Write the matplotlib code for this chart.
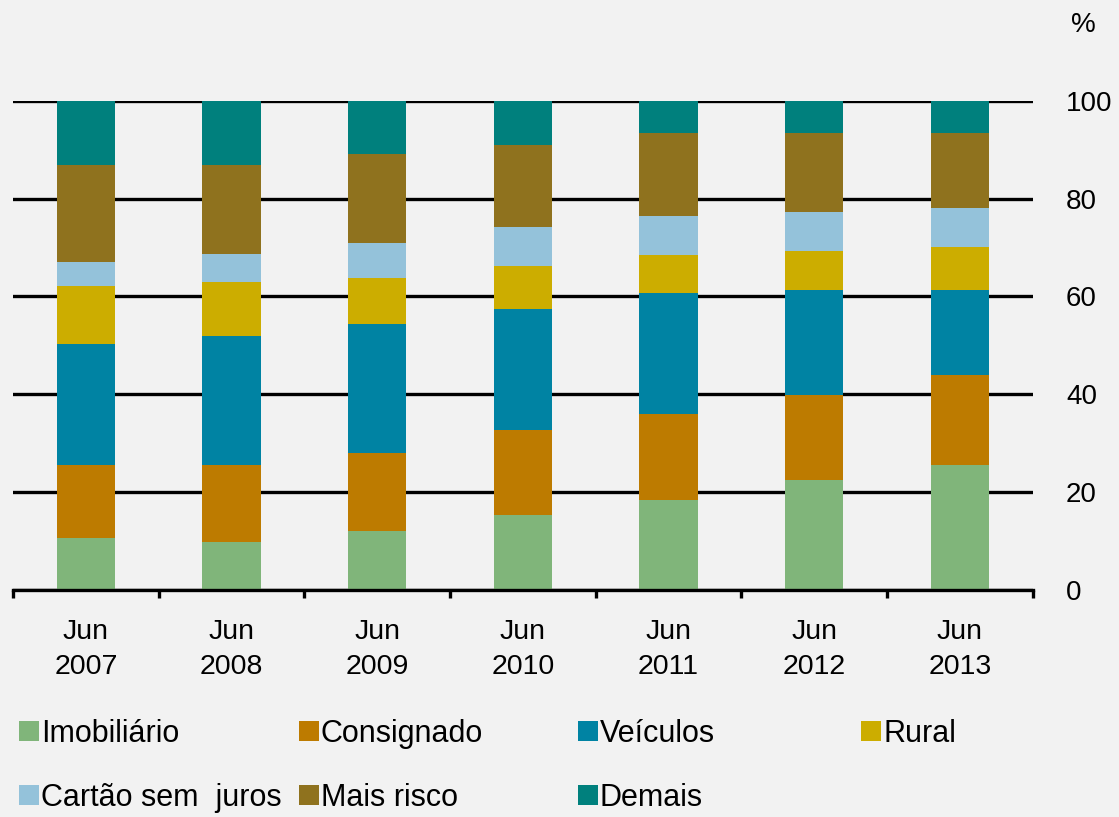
import numpy as np
import matplotlib.pyplot as plt
from matplotlib.patches import Patch

plt.rcParams['font.family'] = ['Liberation Sans', 'DejaVu Sans']

years = ["Jun\n2007", "Jun\n2008", "Jun\n2009", "Jun\n2010", "Jun\n2011", "Jun\n2012", "Jun\n2013"]

# share of each segment, %
imobiliario = [10.6, 9.8, 12.1, 15.3, 18.4, 22.5, 25.6]
consignado = [15.0, 15.8, 15.9, 17.5, 17.6, 17.4, 18.4]
veiculos = [24.6, 26.3, 26.3, 24.6, 24.6, 21.5, 17.4]
rural = [11.9, 11.0, 9.5, 8.8, 7.9, 7.9, 8.7]
cartao = [4.9, 5.7, 7.1, 7.9, 8.0, 8.0, 8.0]
mais_risco = [19.8, 18.2, 18.3, 16.8, 16.8, 16.0, 15.2]
demais = [13.2, 13.2, 10.8, 9.1, 6.7, 6.7, 6.7]

series = [
    ["Imobiliário", imobiliario, "#80B57A"],
    ["Consignado", consignado, "#BD7B00"],
    ["Veículos", veiculos, "#0083A3"],
    ["Rural", rural, "#CCAD00"],
    ["Cartão sem  juros", cartao, "#94C2DA"],
    ["Mais risco", mais_risco, "#8F721E"],
    ["Demais", demais, "#00807D"],
]

bg = "#F2F2F2"
fig = plt.figure(figsize=(11.19, 8.17), dpi=100, facecolor=bg)
ax = fig.add_axes([0.0116, 0.2778, 0.9113, 0.599])
ax.set_facecolor(bg)

x = np.arange(len(years))
bottom = np.zeros(len(years))
for name, vals, color in series:
    ax.bar(x, vals, 0.40, bottom=bottom, color=color, edgecolor="none", zorder=3, label=name)
    bottom += np.array(vals)

ax.set_xlim(-0.5, len(years) - 0.5)
ax.set_ylim(0, 100)

# horizontal gridlines
ax.set_yticks([0, 20, 40, 60, 80, 100])
ax.yaxis.tick_right()
ax.grid(axis="y", color="black", linewidth=2.4, zorder=1)
ax.tick_params(axis="y", length=0, pad=24, labelsize=20)

# ticks between categories, labels centred under bars
ax.set_xticks(np.arange(-0.5, len(years), 1.0))
ax.set_xticklabels([])
ax.set_xticks(x, minor=True)
ax.set_xticklabels(years, minor=True, fontsize=20.5, linespacing=1.45)
ax.tick_params(axis="x", which="major", length=6, width=2.4, color="black")
ax.tick_params(axis="x", which="minor", length=0, pad=21)

for s in ["left", "right", "top"]:
    ax.spines[s].set_visible(False)
ax.spines["bottom"].set_linewidth(2.4)
ax.spines["bottom"].set_zorder(4)

fig.text(1083 / 1119, 1 - 25 / 817, "%", fontsize=20, ha="center", va="center")

# legend, one block per column
col_x = [19, 299, 578, 861]
for c in range(4):
    handles = []
    for idx in (c, c + 4):
        if idx < len(series):
            name, vals, color = series[idx]
            handles.append(Patch(facecolor=color, edgecolor="none", label=name))
    fig.legend(handles=handles, loc="upper left",
               bbox_to_anchor=(col_x[c] / 1119, 1 - 719 / 817),
               frameon=False, fontsize=22, handlelength=0.65, handleheight=0.65,
               handletextpad=0.07, labelspacing=1.1, borderpad=0, borderaxespad=0)

plt.savefig("out.png", dpi=100, facecolor=bg)
